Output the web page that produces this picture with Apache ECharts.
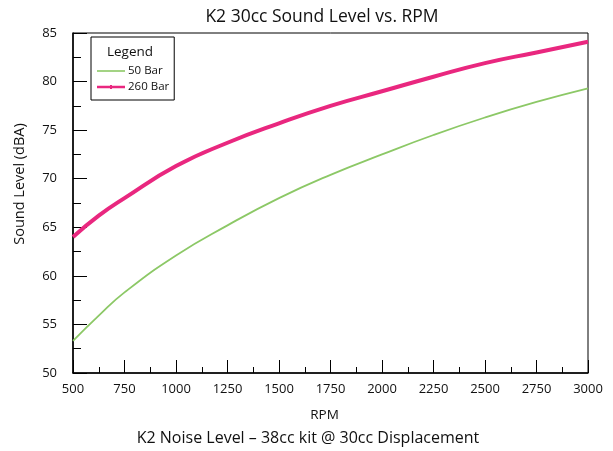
<!DOCTYPE html>
<html><head><meta charset="utf-8">
<script src="https://cdn.jsdelivr.net/npm/echarts@6/dist/echarts.min.js"></script>
<style>html,body{margin:0;padding:0;background:#fff}#c{width:613px;height:451px}</style>
</head><body><div id="c"></div>
<script>
const rpm = [500, 625, 750, 1000, 1250, 1500, 1750, 2000, 2250, 2500, 2750, 3000];
const bar50 = [53.3, 55.9, 58.3, 62.1, 65.2, 68.0, 70.4, 72.5, 74.5, 76.3, 77.9, 79.3];
const bar260 = [64.0, 66.2, 68.0, 71.3, 73.7, 75.7, 77.5, 79.0, 80.5, 81.9, 83.0, 84.1];
const seriesNames = ['50 Bar', '260 Bar'];
const FONT = 'Open Sans';
const chart = echarts.init(document.getElementById('c'));
chart.setOption({
  animation: false,
  textStyle: {fontFamily: FONT},
  title: {text: 'K2 30cc Sound Level vs. RPM', left: 317, textAlign: 'center', top: 3,
    textStyle: {fontFamily: FONT, fontSize: 17.5, fontWeight: 'normal', color: '#111'}},
  grid: {left: 73, right: 25, top: 33, bottom: 78, show: true, borderColor: '#000', borderWidth: 1},
  legend: {
    left: 91, top: 37, orient: 'vertical',
    padding: [28, 5, 7, 6], itemGap: 4, itemWidth: 28, itemHeight: 10,
    borderColor: '#000', borderWidth: 1,
    textStyle: {fontFamily: FONT, fontSize: 11.5, color: '#111', padding: [0,0,0,-2]},
    data: [
      {name: seriesNames[0], icon: 'path://M0,4.2 L28,4.2 L28,5.8 L0,5.8 Z'},
      {name: seriesNames[1], icon: 'path://M0,3.8 L28,3.8 L28,6.2 L0,6.2 Z M13,3.0 L15,3.0 L15,7.0 L13,7.0 Z'}
    ]
  },
  graphic: [
    {type: 'text', x: 130, y: 52, style: {text: 'Legend', font: '13.5px "Open Sans"', fill: '#111', textAlign: 'center', textVerticalAlign: 'middle'}},
    {type: 'text', x: 20, y: 184, rotation: Math.PI / 2, style: {text: 'Sound Level (dBA)', font: '14.5px "Open Sans"', fill: '#111', textAlign: 'center', textVerticalAlign: 'middle'}},
    {type: 'text', x: 308, y: 430, style: {text: 'K2 Noise Level – 38cc kit @ 30cc Displacement', font: '16px "Open Sans"', fill: '#111', textAlign: 'center'}}
  ],
  xAxis: {
    type: 'value', min: 500, max: 3000, interval: 250,
    name: 'RPM', nameLocation: 'middle', nameGap: 35,
    nameTextStyle: {fontFamily: FONT, fontSize: 13.5, color: '#111', padding: [0, 0, 0, -12]},
    axisLine: {lineStyle: {color: '#000', width: 1.5}},
    axisTick: {inside: true, length: 13, lineStyle: {color: '#000'}},
    minorTick: {show: true, splitNumber: 2, length: 6, lineStyle: {color: '#000'}},
    splitLine: {show: false},
    axisLabel: {fontFamily: FONT, fontSize: 13, color: '#111', margin: 10, formatter: v => String(v)}
  },
  yAxis: {
    type: 'value', min: 50, max: 85, interval: 5,
    axisLine: {lineStyle: {color: '#000', width: 1.5}},
    axisTick: {inside: true, length: 14, lineStyle: {color: '#000'}},
    minorTick: {show: true, splitNumber: 2, length: 8, lineStyle: {color: '#000'}},
    splitLine: {show: false},
    axisLabel: {fontFamily: FONT, fontSize: 13, color: '#111', margin: 16}
  },
  series: [
    {name: seriesNames[0], type: 'line', smooth: true, symbol: 'none',
     data: rpm.map((x, i) => [x, bar50[i]]),
     lineStyle: {color: '#8cc866', width: 1.8}, itemStyle: {color: '#8cc866'}},
    {name: seriesNames[1], type: 'line', smooth: true, symbol: 'none',
     data: rpm.map((x, i) => [x, bar260[i]]),
     lineStyle: {color: '#e9277f', width: 4}, itemStyle: {color: '#e9277f'}}
  ]
});
</script></body></html>
